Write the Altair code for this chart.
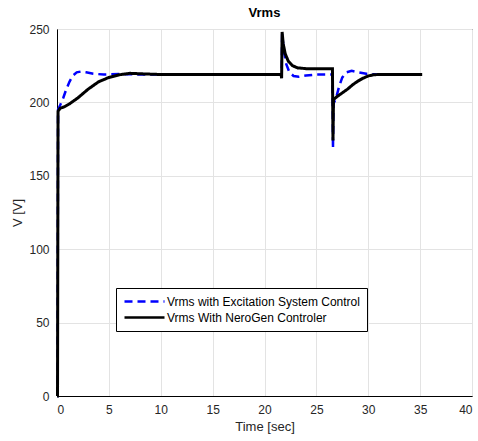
import altair as alt
import pandas as pd

# Series (time in s, voltage in V)
blue_t = [0, 0.05, 0.1, 0.3, 0.6, 0.9, 1.2, 1.5, 1.9, 2.3, 2.8, 3.5, 4.5, 6, 8, 12, 16, 21.6,
          21.65, 21.7, 21.85, 22.1, 22.4, 22.8, 23.3, 24, 25, 26.55,
          26.6, 26.65, 26.9, 27.2, 27.5, 27.9, 28.4, 29, 29.8, 31, 33, 35.2]
blue_v = [0, 0, 195, 198, 203, 209, 214, 218, 220.5, 221, 220.5, 219.5, 219, 219.3, 219, 219, 219, 219,
          217, 247, 236, 226, 220.5, 218, 217.5, 218.3, 219, 219,
          168.5, 199, 203, 211, 217, 220.5, 221.5, 220.5, 219.5, 219, 219, 219]

black_t = [0, 0.05, 0.1, 0.3, 0.7, 1.2, 2, 3, 4, 5, 6, 7, 8, 10, 15, 21.6,
           21.65, 21.7, 21.8, 22, 22.3, 22.7, 23.2, 24, 25, 26.55,
           26.6, 26.65, 27, 27.5, 28, 28.5, 29, 29.5, 30, 30.5, 31, 33, 35.2]
black_v = [0, 0, 194, 196, 197, 199, 203, 209, 214, 217, 218.8, 219.8, 219.5, 219, 219, 219,
           216.5, 248, 240, 233, 228, 225, 223.5, 223, 223, 223,
           174, 202, 204, 206.5, 209, 212, 214.5, 216.5, 218, 218.8, 219, 219, 219]

series_names = ["Vrms with Excitation System Control", "Vrms With NeroGen Controler"]
series_colors = ["#0000ff", "#000000"]
series_dash = [[8, 5], [1, 0]]

x_ticks = [0, 5, 10, 15, 20, 25, 30, 35, 40]
y_ticks = [0, 50, 100, 150, 200, 250]

df_blue = pd.DataFrame({"t": blue_t, "v": blue_v, "series": series_names[0]})
df_black = pd.DataFrame({"t": black_t, "v": black_v, "series": series_names[1]})

FONT = "Liberation Sans"

x_enc = alt.X("t:Q", scale=alt.Scale(domain=[0, 40], nice=False),
              axis=alt.Axis(values=x_ticks, title="Time [sec]", ticks=False,
                            labelPadding=8, titlePadding=5))
y_enc = alt.Y("v:Q", scale=alt.Scale(domain=[0, 250], nice=False),
              axis=alt.Axis(values=y_ticks, title="V [V]", ticks=False,
                            labelPadding=8, titlePadding=4))
color_enc = alt.Color("series:N",
                      scale=alt.Scale(domain=series_names, range=series_colors),
                      legend=alt.Legend(title=None, orient="none", legendX=59, legendY=259,
                                        symbolType="M-4,0L4,0", symbolSize=100,
                                        symbolOffset=15, labelOffset=16,
                                        symbolStrokeWidth=2.5, labelFontSize=12,
                                        labelFont=FONT, labelColor="#000000",
                                        labelLimit=400,
                                        strokeColor="#000000", fillColor="#ffffff",
                                        padding=7, rowPadding=3,
                                        cornerRadius=0))
dash_enc = alt.StrokeDash("series:N",
                          scale=alt.Scale(domain=series_names, range=series_dash),
                          legend=None)

blue = alt.Chart(df_blue).mark_line(strokeWidth=2.5).encode(
    x=x_enc, y=y_enc, color=color_enc, strokeDash=dash_enc, order="t:Q")
black = alt.Chart(df_black).mark_line(strokeWidth=3).encode(
    x=x_enc, y=y_enc, color=color_enc, strokeDash=dash_enc, order="t:Q")

chart = alt.layer(blue, black).properties(
    width=415, height=367,
    title=alt.TitleParams("Vrms", fontSize=13, fontWeight="bold", font=FONT,
                          anchor="middle", offset=3, color="#000000"),
    autosize=alt.AutoSizeParams(type="none"),
    padding={"left": 57, "top": 29, "right": 6, "bottom": 45},
).configure_view(
    stroke="#000000", strokeWidth=1
).configure_axis(
    labelFont=FONT, titleFont=FONT, labelFontSize=12, titleFontSize=13,
    labelColor="#262626", titleColor="#262626", titleFontWeight="normal",
    gridColor="#e3e3e3", gridWidth=1, domainColor="#000000", domainWidth=1,
)

chart.save("out.html", embed_options={"renderer": "svg", "actions": False})
